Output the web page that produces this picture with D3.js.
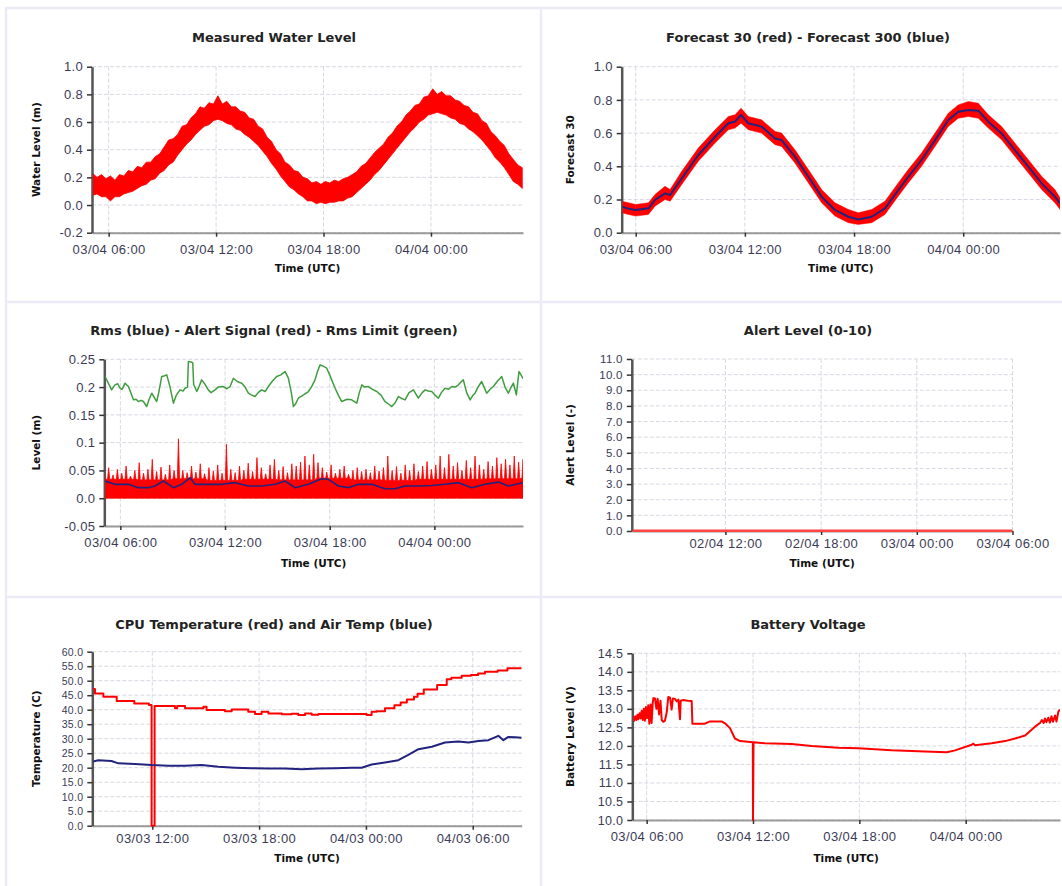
<!DOCTYPE html>
<html>
<head>
<meta charset="utf-8">
<script src="https://cdn.jsdelivr.net/npm/d3@7"></script>
<style>
body { margin: 0; background: #fff; }
svg { display: block; font-family: "DejaVu Sans", Verdana, sans-serif; }
</style>
</head>
<body>
<svg id="chart" width="1062" height="886"></svg>
<script>
// ---- data (hours are offsets from 00:00 UTC of the panel's base day) ----

// Measured water level, 15 min envelope (min / max of the raw signal), day 03/04
const wlStart = 5.1, wlStep = 0.25;
const wlUpper = [
  0.23,0.20,0.22,0.19,0.21,0.18,0.22,0.21,0.25,0.24,
  0.28,0.27,0.31,0.31,0.35,0.37,0.42,0.47,0.48,0.51,
  0.57,0.58,0.63,0.66,0.71,0.70,0.74,0.73,0.79,0.73,
  0.75,0.71,0.71,0.68,0.67,0.63,0.62,0.57,0.55,0.49,
  0.46,0.40,0.37,0.31,0.29,0.25,0.24,0.20,0.19,0.16,
  0.17,0.15,0.17,0.16,0.18,0.17,0.19,0.20,0.22,0.24,
  0.28,0.30,0.34,0.38,0.41,0.44,0.49,0.52,0.57,0.60,
  0.65,0.68,0.72,0.73,0.78,0.79,0.84,0.80,0.82,0.79,
  0.79,0.76,0.75,0.72,0.71,0.67,0.66,0.61,0.59,0.53,
  0.50,0.46,0.43,0.37,0.33,0.29,0.27];
const wlLower = [
  0.07,0.08,0.06,0.06,0.03,0.06,0.06,0.08,0.09,0.10,
  0.12,0.14,0.15,0.18,0.19,0.23,0.25,0.29,0.31,0.36,
  0.40,0.44,0.47,0.51,0.54,0.57,0.58,0.61,0.62,0.61,
  0.59,0.58,0.55,0.54,0.51,0.49,0.46,0.43,0.39,0.35,
  0.30,0.26,0.21,0.17,0.13,0.11,0.08,0.06,0.03,0.03,
  0.01,0.02,0.01,0.02,0.02,0.03,0.03,0.05,0.06,0.09,
  0.12,0.15,0.18,0.22,0.25,0.29,0.33,0.37,0.41,0.45,
  0.49,0.53,0.56,0.60,0.62,0.65,0.66,0.67,0.66,0.65,
  0.63,0.62,0.59,0.58,0.55,0.53,0.50,0.47,0.43,0.39,
  0.34,0.31,0.27,0.22,0.17,0.15,0.12];

// Forecast 300 (blue) and Forecast 30 envelope (red), day 03/04
const fcHours = [5.23,5.6,6.0,6.7,7.06,7.61,7.89,8.53,9.44,10.36,11.09,11.46,11.79,12.19,12.92,13.66,14.02,14.75,15.49,16.22,16.95,17.69,18.23,18.97,19.70,20.43,20.98,21.71,22.45,23.18,23.73,24.28,24.83,25.38,26.11,26.84,27.58,28.31,29.04,29.32];
const fc300 = [0.157,0.145,0.137,0.147,0.197,0.237,0.227,0.327,0.468,0.578,0.659,0.669,0.709,0.659,0.639,0.568,0.558,0.458,0.337,0.217,0.137,0.096,0.080,0.096,0.147,0.257,0.337,0.438,0.558,0.679,0.729,0.739,0.735,0.669,0.598,0.498,0.398,0.297,0.217,0.177];
const fc30Upper = [0.19,0.18,0.17,0.18,0.23,0.28,0.26,0.37,0.51,0.62,0.70,0.71,0.75,0.70,0.68,0.61,0.60,0.50,0.38,0.26,0.18,0.14,0.12,0.14,0.19,0.30,0.38,0.48,0.60,0.72,0.77,0.79,0.78,0.71,0.64,0.54,0.44,0.34,0.26,0.21];
const fc30Lower = [0.12,0.11,0.10,0.11,0.16,0.20,0.19,0.29,0.43,0.54,0.62,0.63,0.66,0.62,0.60,0.53,0.52,0.42,0.30,0.18,0.10,0.06,0.05,0.06,0.11,0.22,0.30,0.40,0.52,0.64,0.69,0.70,0.69,0.63,0.56,0.46,0.36,0.26,0.18,0.14];

// Rms limit (green), day 03/04
const limitHours = [5.08,5.2,5.31,5.5,5.6,5.69,5.85,5.98,6.1,6.27,6.46,6.6,6.75,6.9,7.03,7.2,7.32,7.51,7.65,7.80,7.95,8.08,8.2,8.37,8.5,8.66,8.85,9.04,9.2,9.42,9.6,9.71,9.85,9.9,10.05,10.15,10.2,10.38,10.5,10.66,10.85,11.04,11.2,11.43,11.6,11.9,12.1,12.29,12.48,12.7,12.96,13.15,13.34,13.5,13.72,13.9,14.10,14.3,14.48,14.7,14.96,15.2,15.44,15.63,15.8,15.92,16.05,16.20,16.5,16.78,16.95,17.16,17.3,17.45,17.6,17.83,18.0,18.31,18.5,18.69,19.0,19.26,19.55,19.7,19.84,20.0,20.22,20.45,20.70,20.95,21.17,21.35,21.56,21.75,21.94,22.1,22.32,22.55,22.80,23.08,23.3,23.47,23.65,23.85,24.05,24.23,24.4,24.61,24.8,25.0,25.2,25.38,25.55,25.66,25.85,26.05,26.2,26.33,26.5,26.71,26.85,27.0,27.2,27.38,27.6,27.86,28.05,28.24,28.4,28.53,28.7,28.85,29.0,29.08];
const limitValues = [0.222,0.214,0.207,0.195,0.2,0.204,0.206,0.198,0.196,0.207,0.201,0.19,0.177,0.178,0.174,0.176,0.174,0.165,0.178,0.189,0.181,0.174,0.19,0.219,0.22,0.222,0.2,0.171,0.185,0.195,0.193,0.198,0.2,0.246,0.245,0.244,0.205,0.192,0.2,0.213,0.205,0.195,0.19,0.195,0.2,0.201,0.197,0.201,0.216,0.21,0.207,0.2,0.189,0.186,0.183,0.19,0.195,0.192,0.201,0.21,0.219,0.222,0.228,0.216,0.19,0.165,0.17,0.18,0.186,0.192,0.2,0.213,0.228,0.240,0.238,0.234,0.222,0.198,0.185,0.174,0.178,0.177,0.171,0.19,0.204,0.2,0.201,0.196,0.192,0.185,0.174,0.17,0.165,0.172,0.183,0.18,0.177,0.19,0.195,0.180,0.19,0.195,0.193,0.192,0.185,0.180,0.19,0.198,0.196,0.201,0.2,0.204,0.21,0.213,0.19,0.177,0.185,0.189,0.2,0.210,0.2,0.189,0.196,0.201,0.21,0.219,0.2,0.189,0.2,0.207,0.186,0.228,0.22,0.215];

// Rms (blue), day 03/04
const rmsHours = [5.08,5.69,6.46,7.03,7.61,7.99,8.47,9.04,9.52,10.0,10.28,11.04,11.81,12.57,13.34,14.10,14.87,15.44,16.01,16.78,17.54,17.92,18.50,19.07,19.64,20.41,21.17,21.75,22.32,23.08,23.85,24.61,25.38,26.14,26.91,27.67,28.24,29.08];
const rmsValues = [0.031,0.025,0.025,0.019,0.019,0.022,0.031,0.019,0.025,0.037,0.025,0.025,0.025,0.028,0.022,0.022,0.025,0.031,0.019,0.025,0.035,0.034,0.022,0.019,0.025,0.025,0.017,0.017,0.022,0.022,0.023,0.025,0.028,0.019,0.025,0.029,0.022,0.028];

// Alert signal (red): 15 min peaks, and the dense floor per 2 h block, day 03/04
const alertStart = 5.08, alertStep = 0.25;
const alertPeaks = [0.048,0.055,0.042,0.052,0.045,0.058,0.040,0.050,0.064,0.045,
  0.052,0.070,0.048,0.056,0.043,0.060,0.050,0.107,0.050,0.046,
  0.058,0.047,0.062,0.044,0.055,0.049,0.060,0.045,0.097,0.052,
  0.046,0.058,0.050,0.063,0.048,0.073,0.055,0.044,0.060,0.070,
  0.050,0.057,0.046,0.062,0.058,0.065,0.076,0.060,0.079,0.064,
  0.055,0.047,0.060,0.045,0.052,0.058,0.043,0.050,0.055,0.048,
  0.052,0.046,0.058,0.049,0.055,0.076,0.050,0.057,0.045,0.060,
  0.050,0.062,0.048,0.058,0.066,0.052,0.060,0.076,0.055,0.079,
  0.058,0.064,0.050,0.068,0.055,0.076,0.060,0.052,0.066,0.058,
  0.073,0.062,0.070,0.060,0.076,0.065,0.070];
const alertFloorStep = 2;
const alertFloor = [0.034,0.033,0.035,0.032,0.034,0.033,0.036,0.033,0.032,0.034,0.034,0.035,0.036];

// Alert level, day 02/04
const levelHours = [6.13, 30.0];
const levelValues = [0, 0];

// CPU temperature (red) and air temperature (blue), day 03/03
const cpuHours = [8.63,8.78,9.25,10.0,10.99,11.81,11.96,12.13,13.27,13.4,13.84,14.87,15.05,16.08,16.46,17.39,17.77,18.14,18.52,19.27,19.83,20.2,20.58,20.95,21.33,24.04,24.32,24.6,25.07,25.6,25.95,26.3,26.7,26.9,27.25,28.0,28.54,28.8,29.38,29.9,30.3,30.69,31.4,31.95,32.75];
const cpuTemp = [47.1,45.6,44.5,43.0,42.1,41.6,0,41.3,40.5,41.3,40.5,41.0,39.9,39.5,40.1,39.3,38.5,39.3,38.7,38.4,38.6,38.2,38.7,38.3,38.5,38.2,39.3,39.5,40.5,41.5,42.5,43.5,44.5,45.5,47.0,48.5,50.5,51.0,51.7,52.0,52.5,53.1,53.5,54.3,54.3];
const airHours = [8.63,8.97,9.71,10.09,11.03,11.96,12.9,13.84,14.77,15.71,16.65,17.58,18.52,19.45,20.39,21.33,22.26,23.2,23.76,24.32,25.07,25.82,26.38,26.95,27.7,28.44,29.19,29.76,30.32,30.88,31.44,31.72,32.0,32.38,32.75];
const airTemp = [22.1,22.6,22.3,21.5,21.3,20.9,20.7,20.7,20.9,20.3,20.0,19.8,19.7,19.7,19.5,19.7,19.8,20.0,20.0,21.1,21.8,22.6,24.4,26.4,27.2,28.7,29.0,28.7,29.2,29.5,31.0,29.5,30.6,30.5,30.3];

// Battery voltage, day 03/04
const batHours = [5.19,5.25,5.30,5.36,5.42,5.48,5.53,5.60,5.66,5.72,5.78,5.84,5.90,5.96,6.02,6.09,6.15,6.22,6.28,6.34,6.38,6.47,6.55,6.62,6.70,6.78,6.85,6.94,7.03,7.13,7.22,7.32,7.41,7.48,7.60,7.70,7.79,7.88,7.92,8.07,8.30,8.54,8.58,9.29,9.57,10.23,10.42,10.70,10.98,11.27,11.99,12.0,12.03,12.68,14.18,15.31,16.81,17.94,19.82,21.70,22.93,23.40,24.34,24.43,24.53,25.47,26.22,26.78,27.35,27.91,28.19,28.30,28.40,28.47,28.55,28.66,28.75,28.84,28.92,29.04,29.12,29.23,29.32];
const batVolts = [12.70,12.78,12.68,12.80,12.70,12.84,12.72,12.88,12.74,12.95,12.70,13.00,12.68,13.05,12.75,13.10,12.60,13.12,12.62,13.15,13.29,13.28,13.00,13.27,12.85,13.22,12.70,12.65,12.68,12.90,13.32,13.30,12.98,13.28,13.27,13.20,13.25,12.72,13.22,13.24,13.22,13.21,12.60,12.60,12.66,12.66,12.61,12.48,12.20,12.13,12.10,10.0,12.10,12.07,12.05,12.00,11.95,11.94,11.88,11.85,11.83,11.88,12.03,12.06,12.02,12.07,12.13,12.20,12.28,12.52,12.62,12.70,12.62,12.74,12.64,12.76,12.63,12.80,12.65,12.82,12.66,12.93,12.98];

// axis tick values
const ticksWater = [-0.2, 0, 0.2, 0.4, 0.6, 0.8, 1.0];
const ticksForecast = [0, 0.2, 0.4, 0.6, 0.8, 1.0];
const ticksRms = [-0.05, 0, 0.05, 0.1, 0.15, 0.2, 0.25];
const labelsRms = ["-0.05", "0.0", "0.05", "0.1", "0.15", "0.2", "0.25"];
const ticksLevel = [0,1,2,3,4,5,6,7,8,9,10,11];
const ticksTemp = [0,5,10,15,20,25,30,35,40,45,50,55,60];
const ticksBattery = [10,10.5,11,11.5,12,12.5,13,13.5,14,14.5];

// ---- drawing ----
const svg = d3.select("#chart");
const RED = "#ff0000", NAVY = "#22227f", GREEN = "#3f9d3f";
const day = (d, m) => Date.UTC(2015, m - 1, d);
const at = (base, h) => new Date(base + h * 3600e3);
const fmtTime = d3.utcFormat("%d/%m %H:%M");
const fmt1 = d => d.toFixed(1);

// panel frames
const frame = svg.append("g").attr("stroke", "#ebebf7").attr("stroke-width", 2.5);
[8, 302, 597].forEach(y => frame.append("line").attr("x1", 5).attr("x2", 1062).attr("y1", y).attr("y2", y));
[6, 541].forEach(x => frame.append("line").attr("x1", x).attr("x2", x).attr("y1", 8).attr("y2", 886));

let clipId = 0;
function panel(o) {
    const x = d3.scaleUtc().domain([at(o.base, o.h0), at(o.base, o.h1)]).range([o.left, o.right]);
    const y = d3.scaleLinear().domain(o.yDomain).range([o.bottom, o.top]);
    const xTicks = x.ticks(d3.utcHour.every(6));

    const grid = svg.append("g").attr("stroke", "#d8d8e2").attr("stroke-dasharray", "4,2");
    grid.selectAll(".h").data(o.yTicks).join("line")
        .attr("x1", o.left).attr("x2", o.right)
        .attr("y1", d => y(d)).attr("y2", d => y(d));
    grid.selectAll(".v").data(xTicks).join("line")
        .attr("x1", d => x(d)).attr("x2", d => x(d))
        .attr("y1", o.top).attr("y2", o.bottom);

    const xAxis = svg.append("g")
        .attr("transform", `translate(0,${o.bottom})`)
        .call(d3.axisBottom(x).tickValues(xTicks).tickFormat(fmtTime)
            .tickSize(4).tickSizeOuter(0).tickPadding(o.xPad));
    xAxis.select(".domain").attr("stroke", "#9a9a9a").attr("stroke-width", 2);
    xAxis.selectAll(".tick line").attr("stroke", "#333").attr("stroke-width", 1.5);
    xAxis.selectAll("text").attr("font-size", 13).attr("letter-spacing", 0.4).attr("fill", "#3b3b55");

    const yAxis = svg.append("g")
        .attr("transform", `translate(${o.left},0)`)
        .call(d3.axisLeft(y).tickValues(o.yTicks).tickFormat(o.yFormat || fmt1)
            .tickSize(5).tickSizeOuter(0).tickPadding(4));
    yAxis.select(".domain").attr("stroke", "#555").attr("stroke-width", 2.5);
    yAxis.selectAll(".tick line").attr("stroke", "#333").attr("stroke-width", 1.5);
    yAxis.selectAll("text").attr("font-size", o.yFont).attr("letter-spacing", 0.3).attr("fill", "#3b3b55");

    svg.append("text")
        .attr("x", o.titleX).attr("y", o.titleY)
        .attr("text-anchor", "middle").attr("font-size", 13).attr("font-weight", "bold")
        .attr("fill", "#222").text(o.title);
    svg.append("text")
        .attr("x", (o.left + o.right) / 2).attr("y", o.bottom + o.xTitleDy)
        .attr("text-anchor", "middle").attr("font-size", 10.5).attr("font-weight", "bold")
        .attr("fill", "#111").text("Time (UTC)");
    svg.append("text")
        .attr("transform", `translate(${o.yTitleX},${(o.top + o.bottom) / 2}) rotate(-90)`)
        .attr("text-anchor", "middle").attr("dominant-baseline", "central")
        .attr("font-size", 10.5).attr("font-weight", "bold")
        .attr("fill", "#111").text(o.yTitle);

    const id = "clip" + (clipId++);
    svg.append("clipPath").attr("id", id).append("rect")
        .attr("x", o.left + 1).attr("y", o.top - 3)
        .attr("width", o.right - o.left - 1).attr("height", o.bottom - o.top + 4);
    const g = svg.append("g").attr("clip-path", `url(#${id})`);
    return { g, x, y, base: o.base };
}

function line(p, hours, values, color, width, curve) {
    const pts = hours.map((h, i) => [at(p.base, h), values[i]]);
    p.g.append("path").datum(pts)
        .attr("fill", "none").attr("stroke", color).attr("stroke-width", width)
        .attr("stroke-linejoin", "round")
        .attr("d", d3.line().x(d => p.x(d[0])).y(d => p.y(d[1])).curve(curve || d3.curveLinear));
}

function band(p, hours, lo, hi, color, edge) {
    const pts = hours.map((h, i) => [at(p.base, h), lo[i], hi[i]]);
    p.g.append("path").datum(pts)
        .attr("fill", color).attr("stroke", color).attr("stroke-width", edge)
        .attr("stroke-linejoin", "miter")
        .attr("d", d3.area().x(d => p.x(d[0])).y0(d => p.y(d[1])).y1(d => p.y(d[2])));
}

// 1. Measured water level
const p1 = panel({
    base: day(3, 4), h0: 5.07, h1: 29.14,
    left: 92, right: 523, top: 66.7, bottom: 232.7,
    yDomain: [-0.2, 1.0], yTicks: ticksWater, yFont: 13,
    title: "Measured Water Level", titleX: 274, titleY: 42,
    yTitle: "Water Level (m)", yTitleX: 36, xPad: 8, xTitleDy: 39
});
const wlHours = wlUpper.map((v, i) => wlStart + i * wlStep);
band(p1, wlHours, wlLower, wlUpper, RED, 0.8);

// 2. Forecasts
const p2 = panel({
    base: day(3, 4), h0: 5.23, h1: 29.32,
    left: 621.7, right: 1060, top: 66.7, bottom: 232.7,
    yDomain: [0, 1.0], yTicks: ticksForecast, yFont: 13,
    title: "Forecast 30 (red) - Forecast 300 (blue)", titleX: 808, titleY: 42,
    yTitle: "Forecast 30", yTitleX: 570, xPad: 8, xTitleDy: 39
});
band(p2, fcHours, fc30Lower, fc30Upper, RED, 0.5);
line(p2, fcHours, fc300, NAVY, 2);

// 3. Rms / alert signal / limit
const p3 = panel({
    base: day(3, 4), h0: 5.08, h1: 29.08,
    left: 104.3, right: 523, top: 359.3, bottom: 526,
    yDomain: [-0.05, 0.25], yTicks: ticksRms, yFont: 13,
    yFormat: d => labelsRms[ticksRms.indexOf(d)],
    title: "Rms (blue) - Alert Signal (red) - Rms Limit (green)", titleX: 274, titleY: 334.5,
    yTitle: "Level (m)", yTitleX: 36, xPad: 8, xTitleDy: 40.5
});
// alert signal: each 15 min peak, then back down to the dense floor
const alertPts = [];
alertPeaks.forEach((v, i) => {
    const h = alertStart + i * alertStep;
    const floor = alertFloor[Math.floor((h - alertStart) / alertFloorStep)];
    alertPts.push([at(p3.base, h - alertStep * 0.25), floor]);
    alertPts.push([at(p3.base, h), v]);
    alertPts.push([at(p3.base, h + alertStep * 0.25), floor]);
});
p3.g.append("path").datum(alertPts)
    .attr("fill", RED).attr("stroke", RED).attr("stroke-width", 0.8)
    .attr("d", d3.area().x(d => p3.x(d[0])).y0(p3.y(0)).y1(d => p3.y(d[1])));
line(p3, rmsHours, rmsValues, NAVY, 1.6);
line(p3, limitHours, limitValues, GREEN, 1.5);

// 4. Alert level
const p4 = panel({
    base: day(2, 4), h0: 6.13, h1: 30.0,
    left: 631.8, right: 1012.5, top: 359, bottom: 531,
    yDomain: [0, 11], yTicks: ticksLevel, yFont: 11.5,
    title: "Alert Level (0-10)", titleX: 808, titleY: 334.5,
    yTitle: "Alert Level (-)", yTitleX: 570, xPad: 3.5, xTitleDy: 36
});
line(p4, levelHours, levelValues, "#f44", 3);

// 5. Temperatures
const p5 = panel({
    base: day(3, 3), h0: 8.63, h1: 32.75,
    left: 92.3, right: 521.7, top: 651.7, bottom: 825.7,
    yDomain: [0, 60], yTicks: ticksTemp, yFont: 10.5,
    title: "CPU Temperature (red) and Air Temp (blue)", titleX: 274, titleY: 629,
    yTitle: "Temperature (C)", yTitleX: 36, xPad: 4, xTitleDy: 36
});
line(p5, cpuHours, cpuTemp, RED, 2, d3.curveStepAfter);
line(p5, airHours, airTemp, NAVY, 2);

// 6. Battery
const p6 = panel({
    base: day(3, 4), h0: 5.19, h1: 29.32,
    left: 632.3, right: 1060, top: 653.3, bottom: 820,
    yDomain: [10, 14.5], yTicks: ticksBattery, yFont: 12.5,
    title: "Battery Voltage", titleX: 808, titleY: 629,
    yTitle: "Battery Level (V)", yTitleX: 570, xPad: 8, xTitleDy: 41.5
});
line(p6, batHours, batVolts, RED, 2);
</script>
</body>
</html>
